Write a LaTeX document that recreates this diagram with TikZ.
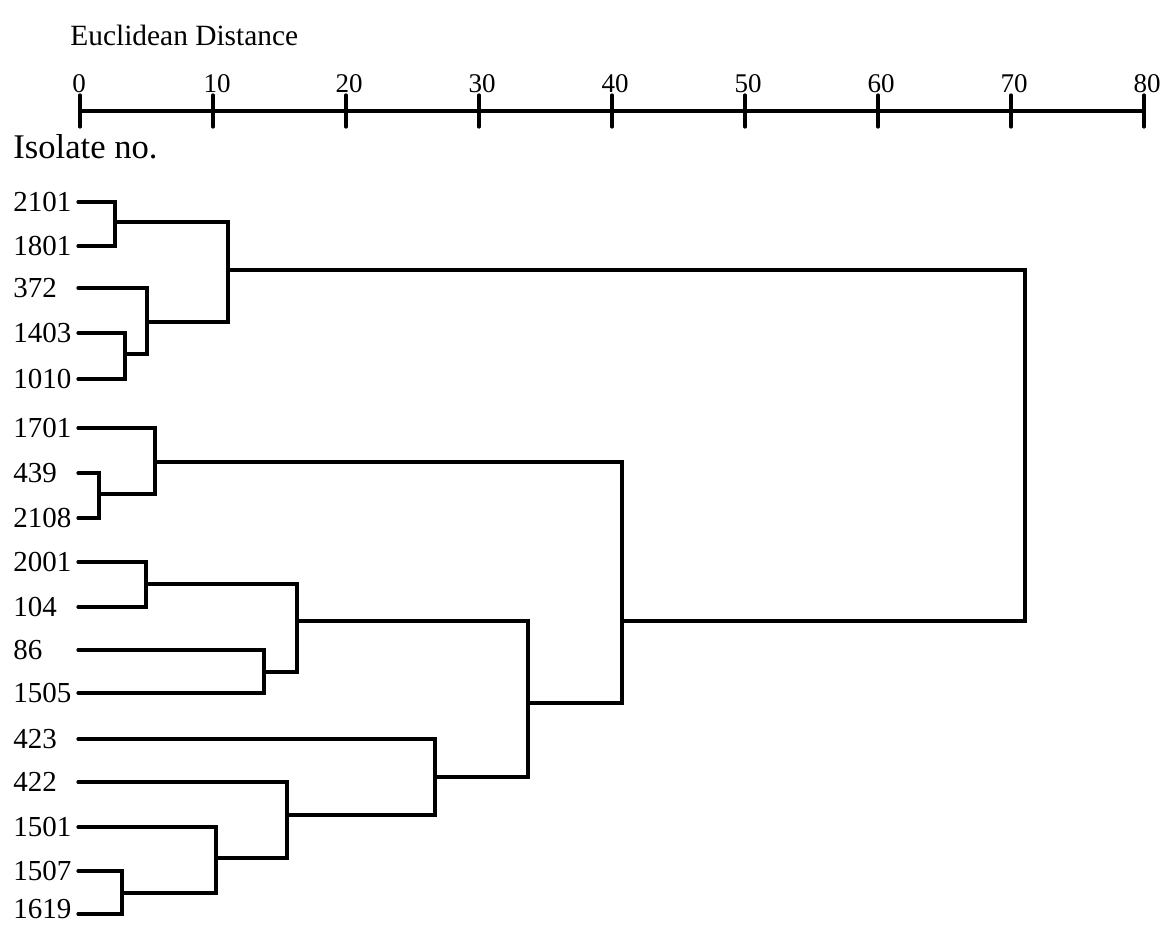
\documentclass[tikz,border=0pt]{standalone}
\usepackage{fontspec}
\setmainfont{Liberation Serif}
\begin{document}
\begin{tikzpicture}[x=0.5pt,y=-0.5pt,
  link/.style={line width=1.6pt, line cap=round},
  leaflabel/.style={anchor=west, inner sep=0pt, font=\fontsize{14.5}{17}\selectfont},
  ticklabel/.style={anchor=base, inner sep=0pt, font=\fontsize{13.5}{16}\selectfont},
  caption/.style={anchor=west, inner sep=0pt},
]
\useasboundingbox (0,0) rectangle (1166,925);

% headings
\node[caption, font=\fontsize{14.7}{17}\selectfont] (title) at (70,35) {Euclidean Distance};
\node[caption, font=\fontsize{17.3}{20}\selectfont] (isolate) at (13,147) {Isolate no.};

% distance axis
\coordinate (axstart) at (80,111);
\coordinate (axend) at (1144,111);
\draw[link] (axstart) -- (axend);
\foreach \v/\dx in {0/-1,10/4,20/3,30/3,40/3,50/3,60/3,70/3,80/3} {
  \coordinate (tick\v) at ({80+13.3*\v},111);
  \draw[link] ([yshift=8pt]tick\v) -- ([yshift=-8pt]tick\v);
  \node[ticklabel] (num\v) at ({80+13.3*\v+\dx},93) {\v};
}

% isolates: label (ly) and start of the leaf branch (yy)
\foreach \name/\yy/\ly in {2101/202/202, 1801/246/246, 372/288/288, 1403/333/333,
                           1010/379/379, 1701/428/428, 439/473/473, 2108/518/518,
                           2001/562/562, 104/607/607, 86/650/650, 1505/693/693,
                           423/739/739, 422/782/782, 1501/827/827, 1507/871/871,
                           1619/914/909} {
  \node[leaflabel] (lab\name) at (13,\ly) {\name};
  \coordinate (leaf\name) at (78,\yy);
}

% merge points (x = linkage distance, y = outgoing branch)
\coordinate (A) at (115,222);
\coordinate (B) at (125,354);
\coordinate (C) at (147,322);
\coordinate (D) at (228,270);
\coordinate (E) at (99,494);
\coordinate (F) at (155,462);
\coordinate (G) at (146,584);
\coordinate (H) at (264,672);
\coordinate (I) at (297,621);
\coordinate (J) at (122,893);
\coordinate (K) at (216,858);
\coordinate (L) at (287,815);
\coordinate (M) at (435,777);
\coordinate (N) at (528,703);
\coordinate (O) at (622,621);
\coordinate (R) at (1025,445);

% branches: each child runs across to its merge point, then up/down
\foreach \child/\parent in {leaf2101/A, leaf1801/A, leaf1403/B, leaf1010/B,
                            leaf372/C, B/C, A/D, C/D,
                            leaf439/E, leaf2108/E, leaf1701/F, E/F,
                            leaf2001/G, leaf104/G, leaf86/H, leaf1505/H, G/I, H/I,
                            leaf1507/J, leaf1619/J, leaf1501/K, J/K,
                            leaf422/L, K/L, leaf423/M, L/M,
                            I/N, M/N, F/O, N/O, D/R, O/R} {
  \draw[link] (\child) -| (\parent);
}
\end{tikzpicture}
\end{document}
